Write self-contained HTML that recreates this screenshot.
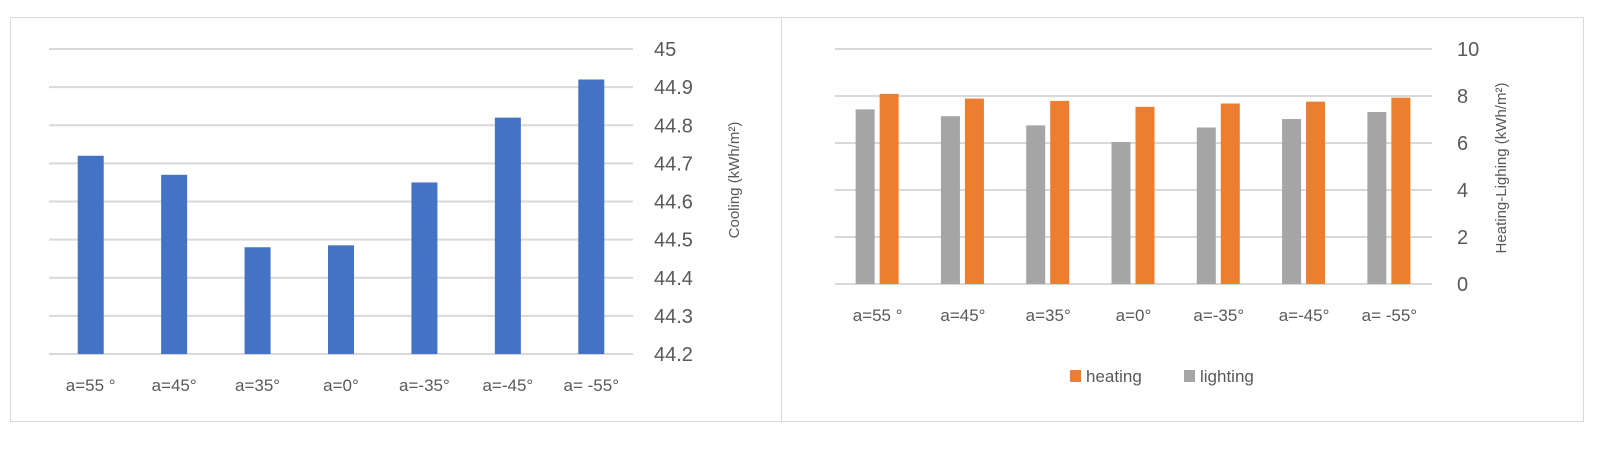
<!DOCTYPE html>
<html><head><meta charset="utf-8"><style>
body{margin:0;background:#fff;width:1600px;height:446px;overflow:hidden}
svg{font-family:"Liberation Sans",sans-serif}
</style></head><body>
<svg id="s" width="1600" height="446">
<rect x="10.5" y="17.5" width="771" height="404" fill="none" stroke="#d9d9d9"/>
<rect x="781.5" y="17.5" width="802" height="404" fill="none" stroke="#d9d9d9"/>
<text x="739" y="180" transform="rotate(-90 739 180)" text-anchor="middle" font-size="15" fill="#595959">Cooling (kWh/m²)</text>
<text x="1506" y="168" transform="rotate(-90 1506 168)" text-anchor="middle" font-size="15" fill="#595959">Heating-Lighing (kWh/m²)</text>
<g>
<rect x="1070" y="370" width="11" height="12" fill="#ED7D31"/>
<text x="1086" y="382" font-size="17" fill="#595959">heating</text>
<rect x="1184" y="370" width="11" height="12" fill="#A5A5A5"/>
<text x="1200" y="382" font-size="17" fill="#595959">lighting</text>
</g>
</svg>
<script>
const categories=["a=55 °","a=45°","a=35°","a=0°","a=-35°","a=-45°","a= -55°"];
const cooling=[44.72,44.67,44.48,44.485,44.65,44.82,44.92];
const coolTicks=["44.2","44.3","44.4","44.5","44.6","44.7","44.8","44.9","45"];
const heating=[8.09,7.89,7.79,7.54,7.68,7.76,7.93];
const lighting=[7.43,7.14,6.75,6.04,6.66,7.02,7.32];
const hlTicks=["0","2","4","6","8","10"];
const s=document.getElementById('s');
const NS="http://www.w3.org/2000/svg";
function mk(t,a){const e=document.createElementNS(NS,t);for(const k in a)e.setAttribute(k,a[k]);s.appendChild(e);return e;}
const L={x0:49,x1:633,y0:354,y1:49,min:44.2,max:45};
const ly=v=>L.y0-(v-L.min)/(L.max-L.min)*(L.y0-L.y1);
const lbw=(L.x1-L.x0)/categories.length;
coolTicks.forEach(t=>{const y=ly(parseFloat(t));
const g=mk('line',{x1:L.x0,x2:L.x1,y1:y,y2:y,stroke:'#d9d9d9','stroke-width':2});

const tx=mk('text',{x:654,y:y+7,'font-size':20,fill:'#595959'});tx.textContent=t;
});
categories.forEach((c,i)=>{const cx=L.x0+lbw*(i+0.5);
const b=mk('rect',{x:cx-13,y:ly(cooling[i]),width:26,height:L.y0-ly(cooling[i]),fill:'#4472C4'});

const t=mk('text',{x:cx,y:391,'text-anchor':'middle','font-size':17,fill:'#595959'});t.textContent=c;
});
const R={x0:835,x1:1432,y0:284,y1:49,min:0,max:10};
const ry=v=>R.y0-(v-R.min)/(R.max-R.min)*(R.y0-R.y1);
const rbw=(R.x1-R.x0)/categories.length;
hlTicks.forEach(t=>{const y=ry(parseFloat(t));
const g=mk('line',{x1:R.x0,x2:R.x1,y1:y,y2:y,stroke:'#d9d9d9','stroke-width':2});

const tx=mk('text',{x:1457,y:y+7,'font-size':20,fill:'#595959'});tx.textContent=t;
});
categories.forEach((c,i)=>{const cx=R.x0+rbw*(i+0.5);
const g=mk('rect',{x:cx-22,y:ry(lighting[i]),width:19,height:R.y0-ry(lighting[i]),fill:'#A5A5A5'});

const o=mk('rect',{x:cx+2,y:ry(heating[i]),width:19,height:R.y0-ry(heating[i]),fill:'#ED7D31'});

const t=mk('text',{x:cx,y:321,'text-anchor':'middle','font-size':17,fill:'#595959'});t.textContent=c;
});
</script>
</body></html>
